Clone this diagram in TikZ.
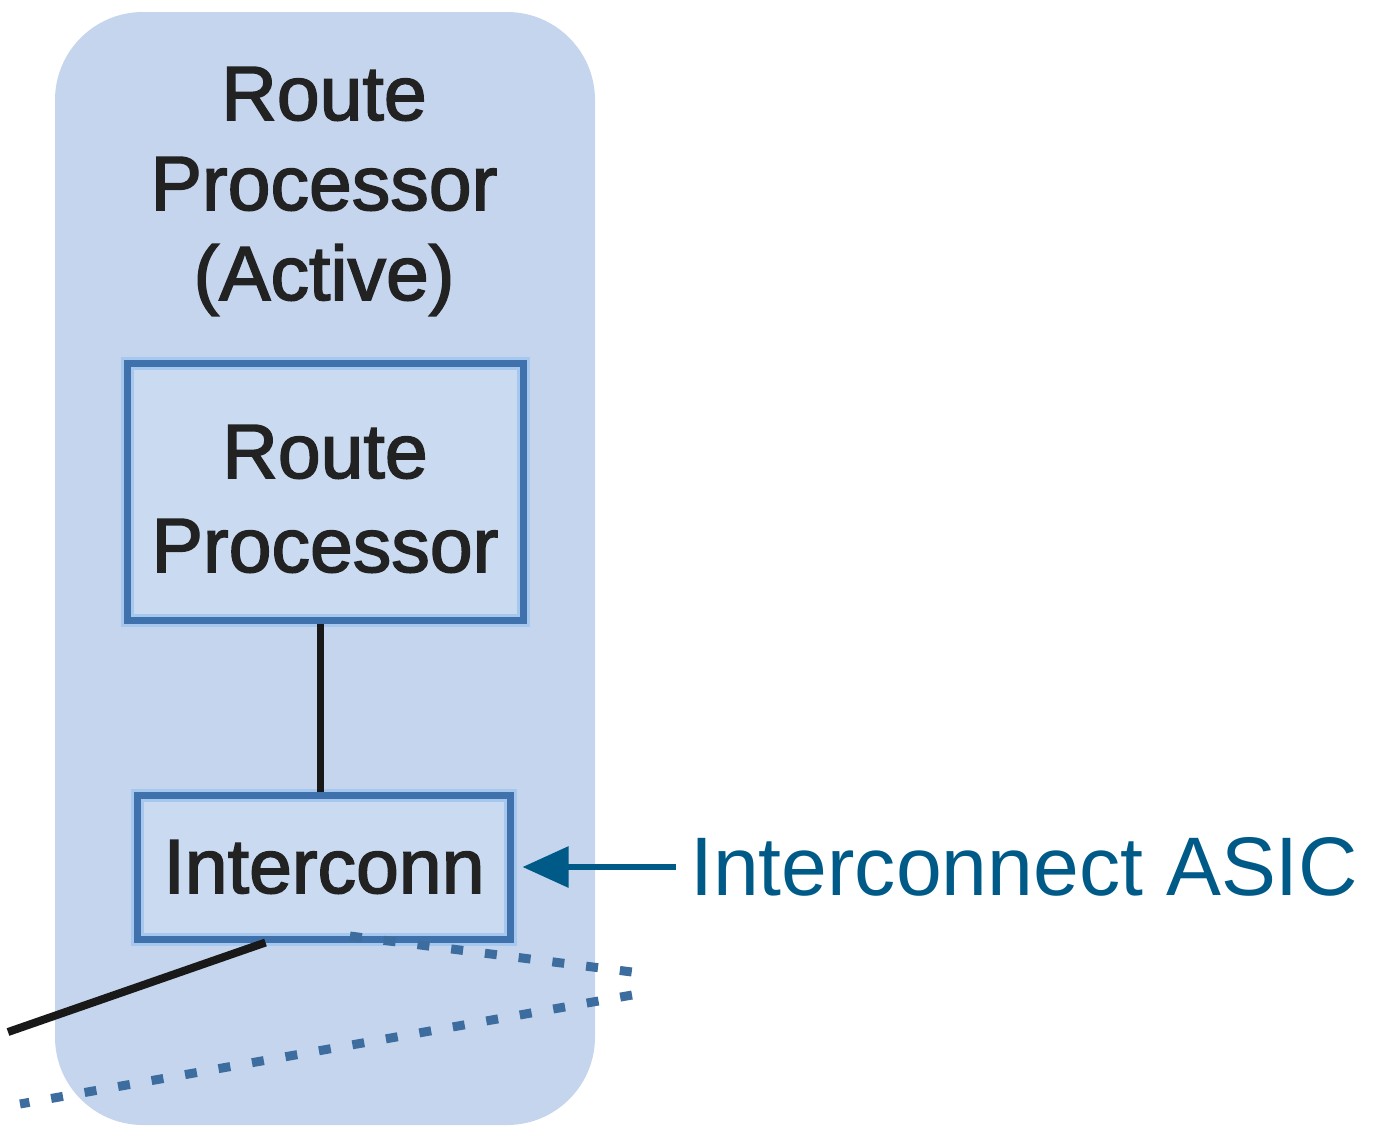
\documentclass[tikz,border=0pt]{standalone}
\usepackage{graphicx}
\usepackage{fontspec}
\setmainfont{Liberation Sans}
\newfontfamily\boxfont[FakeBold=2]{Liberation Sans}
\usetikzlibrary{arrows.meta}
\definecolor{bgblue}{HTML}{C5D5ED}
\definecolor{boxfill}{HTML}{CADAF0}
\definecolor{boxedge}{HTML}{3F72AC}
\definecolor{boxhalo}{HTML}{A6C8EE}
\definecolor{txt}{HTML}{222222}
\definecolor{asic}{HTML}{005A88}
\definecolor{dashblue}{HTML}{3C6D9E}
\begin{document}
\begin{tikzpicture}[x=1pt,y=-1pt,
 bigfont/.style={font=\boxfont\fontsize{77pt}{90pt}\selectfont, text=txt},
 panel/.style={fill=bgblue, rounded corners=88pt, inner sep=0pt},
 unitbox/.style={preaction={fill=boxfill, draw=boxhalo, line width=13pt}, draw=boxedge, line width=7pt, inner sep=0pt},
 wire/.style={draw=black!90, line width=7pt},
 dashline/.style={draw=dashblue, line width=9pt, dash pattern=on 12pt off 22pt},
 pointer/.style={draw=asic, line width=6pt, -{Triangle[length=46pt,width=40pt]}},
]
\useasboundingbox (0,0) rectangle (1378,1128);
\node[panel, minimum width=540pt, minimum height=1113pt] (panel) at (325,568.5) {};
\node[bigfont, align=center, inner sep=0pt, anchor=base] (title) at (324,300) {Route\\Processor\\(Active)};
\node[unitbox, minimum width=396pt, minimum height=257pt] (rp) at (325,491.5) {};
\node[bigfont, align=center, inner sep=0pt, anchor=base, font=\boxfont\fontsize{77pt}{94pt}\selectfont] (rptext) at (325,572) {Route\\Processor};
\node[unitbox, minimum width=373pt, minimum height=144pt] (ic) at (323.5,867) {};
\node[bigfont, inner sep=0pt, anchor=base] (ictext) at (324,893) {Interconn};
\draw[wire] ([xshift=-5pt]rp.south) -- ([xshift=-3.5pt]ic.north);
\coordinate (bkend) at (8,1032);
\draw[wire, line width=8pt] ([xshift=-58pt]ic.south) -- (bkend);
\coordinate (d1a) at (350,936);
\coordinate (d1b) at (632,972);
\coordinate (d2a) at (632,995);
\coordinate (d2b) at (20,1104);
\draw[dashline] (d1a) -- (d1b);
\draw[dashline] (d2a) -- (d2b);
\coordinate (arrtail) at (676,867);
\draw[pointer] (arrtail) -- ([xshift=9pt]ic.east);
\node[anchor=base west, text=asic, inner sep=0pt] (lbl) at (690,895) {\resizebox{668pt}{58pt}{Interconnect ASIC}};
\end{tikzpicture}
\end{document}
